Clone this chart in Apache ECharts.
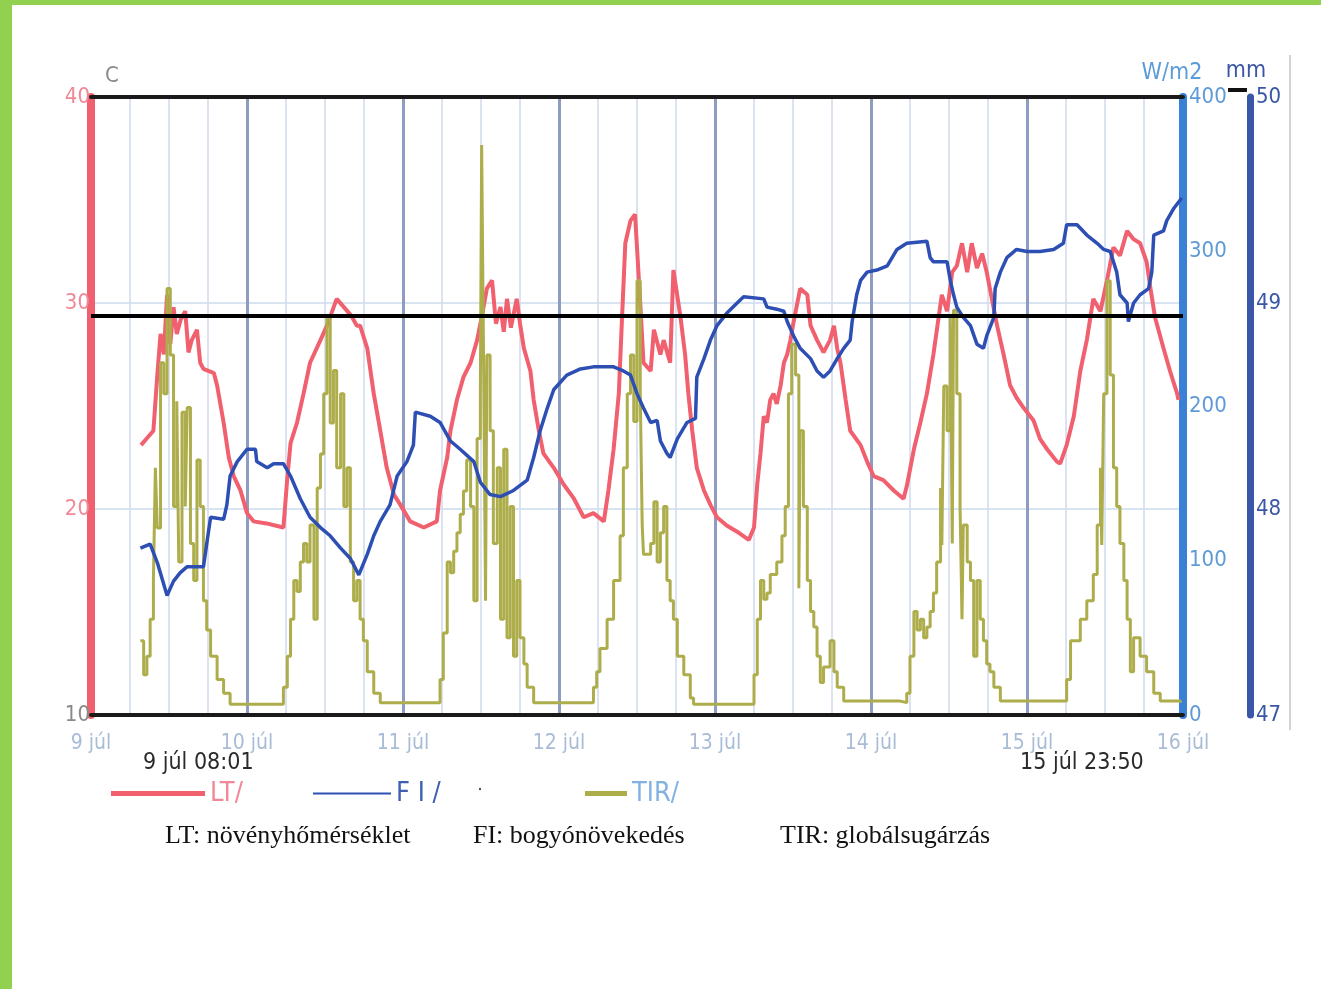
<!DOCTYPE html>
<html><head><meta charset="utf-8">
<script src="https://cdn.jsdelivr.net/npm/echarts@6/dist/echarts.min.js"></script>
<style>html,body{margin:0;padding:0;background:#fff;}#c{width:1321px;height:989px;}</style>
</head><body><div id="c"></div>
<script>
// time in hours from 9 júl 00:00
const DAY_START = 9;
const DAY_SUFFIX = ' júl';
const START_LABEL = '9 júl 08:01';
const END_LABEL = '15 júl 23:50';
const REF_LINE_C = 29.4;

// LT: plant temperature (°C)
const LT = [
[7.7,23.1],[8.5,23.4],[9.6,23.8],[10.2,26.5],[10.7,28.5],[11.2,27.5],[11.7,30.4],[12.2,28.0],[12.7,29.8],[13.2,28.5],[13.8,29.2],[14.5,29.6],[15.0,27.6],[15.5,28.2],[16.3,28.7],[16.8,27.1],[17.3,26.8],[18.9,26.6],[19.4,26.0],[20.4,24.2],[21.2,22.5],[21.95,21.6],[23.0,20.9],[24.0,19.8],[25.0,19.4],[27.0,19.3],[29.6,19.1],[30.2,21.5],[30.7,23.2],[31.7,24.2],[32.7,25.6],[33.7,27.1],[35.3,28.2],[36.3,28.9],[37.8,30.2],[38.9,29.8],[40.0,29.4],[40.9,28.9],[41.4,28.9],[42.5,27.8],[43.5,25.6],[44.5,23.8],[45.5,22.0],[46.6,20.7],[47.6,20.2],[49.1,19.4],[51.2,19.1],[53.2,19.4],[53.7,20.9],[54.8,22.5],[55.3,23.8],[56.3,25.3],[57.3,26.4],[58.4,27.1],[59.4,28.2],[60.1,29.3],[60.9,30.7],[61.7,31.1],[62.3,29.0],[63.0,29.8],[63.5,28.6],[64.0,30.2],[64.6,28.8],[65.5,30.2],[66.0,29.0],[66.6,27.8],[67.6,26.7],[68.1,25.3],[68.9,23.8],[69.6,22.7],[71.2,22.0],[72.7,21.2],[74.3,20.5],[75.8,19.6],[77.3,19.8],[78.9,19.4],[79.6,20.9],[80.4,22.9],[81.2,25.6],[81.7,29.3],[82.2,32.9],[83.0,34.0],[83.7,34.3],[84.5,30.0],[85.0,27.1],[86.1,26.7],[86.6,28.7],[87.6,27.5],[88.1,28.2],[89.1,27.1],[89.6,31.6],[90.7,29.3],[91.4,27.5],[91.9,25.6],[92.5,23.8],[93.2,22.0],[94.3,20.9],[95.3,20.2],[96.3,19.6],[97.8,19.2],[99.4,18.9],[101.2,18.5],[102.0,19.1],[102.5,21.2],[103.0,22.7],[103.5,24.5],[104.0,24.2],[104.5,25.3],[105.0,25.6],[105.5,25.1],[106.1,26.0],[106.6,27.1],[107.1,27.5],[107.6,28.2],[108.1,29.1],[109.1,30.7],[110.2,30.4],[110.7,28.9],[111.7,28.2],[112.7,27.6],[113.7,28.2],[114.3,28.9],[114.8,27.8],[115.3,27.1],[116.1,25.3],[116.8,23.8],[118.4,23.1],[119.4,22.3],[120.4,21.6],[121.9,21.4],[123.5,20.9],[125.0,20.5],[125.5,21.1],[126.6,22.9],[127.6,24.2],[128.6,25.6],[129.6,27.5],[130.4,29.3],[130.9,30.4],[131.7,29.6],[132.5,31.5],[133.2,31.8],[134.0,32.9],[134.8,31.5],[135.5,32.9],[136.3,31.7],[137.1,32.4],[137.8,31.5],[138.6,30.2],[139.4,28.9],[140.4,27.5],[141.4,26.0],[142.4,25.4],[143.5,24.9],[145.0,24.3],[146.0,23.4],[147.1,22.9],[148.6,22.3],[149.1,22.2],[150.1,23.1],[151.2,24.5],[152.2,26.7],[153.2,28.2],[154.2,30.2],[155.3,29.6],[156.3,31.1],[157.3,32.7],[158.3,32.3],[159.4,33.5],[160.4,33.1],[161.4,32.9],[162.4,32.0],[163.0,30.7],[163.7,29.3],[165.0,27.8],[166.0,26.7],[167.1,25.6],[167.3,25.3]
];

// FI: berry growth (mm)
const FI = [
[7.6,47.81],[9.1,47.83],[10.2,47.74],[11.7,47.58],[12.7,47.65],[13.7,47.69],[14.8,47.72],[17.3,47.72],[17.8,47.83],[18.4,47.96],[20.4,47.95],[20.9,48.02],[21.4,48.16],[22.5,48.23],[24.0,48.29],[25.3,48.29],[25.5,48.23],[27.1,48.20],[28.1,48.22],[29.6,48.22],[30.7,48.16],[32.2,48.05],[33.7,47.96],[35.3,47.91],[36.8,47.87],[38.4,47.81],[39.9,47.76],[41.2,47.68],[42.5,47.78],[43.5,47.87],[44.5,47.94],[46.0,48.02],[47.1,48.16],[48.6,48.23],[49.6,48.31],[49.9,48.47],[52.2,48.45],[53.7,48.42],[55.3,48.33],[56.8,48.29],[58.9,48.23],[59.9,48.13],[61.4,48.07],[63.0,48.06],[65.0,48.09],[67.1,48.14],[68.1,48.25],[69.1,48.38],[70.2,48.49],[71.2,48.58],[73.2,48.65],[75.3,48.68],[77.3,48.69],[80.4,48.69],[81.9,48.67],[83.0,48.65],[84.0,48.56],[85.0,48.49],[86.1,48.42],[87.1,48.43],[87.6,48.33],[88.6,48.27],[89.1,48.25],[90.2,48.34],[91.7,48.42],[93.0,48.44],[93.2,48.64],[94.3,48.73],[95.3,48.82],[96.3,48.89],[97.8,48.95],[99.4,49.00],[100.4,49.03],[103.5,49.02],[104.0,48.98],[105.5,48.97],[106.6,48.96],[107.1,48.91],[108.1,48.84],[109.1,48.78],[110.7,48.73],[111.7,48.67],[112.7,48.64],[113.7,48.67],[114.8,48.73],[115.8,48.78],[116.8,48.82],[117.1,48.91],[117.8,49.04],[118.4,49.11],[119.4,49.15],[120.9,49.16],[122.5,49.18],[124.0,49.26],[125.5,49.29],[128.6,49.30],[129.1,49.22],[129.6,49.20],[131.7,49.20],[132.2,49.11],[132.7,49.04],[133.2,48.98],[134.2,48.93],[135.3,48.89],[136.3,48.80],[137.3,48.78],[137.8,48.84],[138.9,48.93],[139.1,49.07],[139.9,49.15],[140.9,49.22],[142.4,49.26],[144.0,49.25],[146.0,49.25],[148.1,49.26],[149.6,49.29],[150.1,49.38],[151.7,49.38],[153.2,49.33],[154.8,49.29],[155.8,49.26],[156.8,49.25],[157.3,49.20],[157.8,49.15],[158.3,49.04],[159.4,49.00],[159.6,48.91],[160.4,49.00],[161.4,49.04],[162.7,49.07],[163.2,49.15],[163.5,49.33],[165.0,49.35],[165.5,49.40],[166.6,49.46],[167.8,49.51]
];

// TIR: global radiation (W/m2)
const TIR = [
[7.6,48],[8.1,26],[8.6,38],[9.1,62],[9.6,87],[9.9,160],[10.2,121],[10.7,228],[11.2,208],[11.7,276],[12.2,233],[12.7,135],[13.2,203],[13.5,99],[14.0,196],[14.5,135],[14.8,199],[15.3,111],[15.8,87],[16.3,165],[16.8,135],[17.3,74],[17.8,55],[18.4,38],[19.4,23],[20.4,14],[21.4,7],[28.6,7],[29.6,18],[30.2,38],[30.7,62],[31.2,87],[31.7,80],[32.2,99],[32.7,111],[33.2,99],[33.7,123],[34.3,62],[34.8,147],[35.3,169],[35.8,208],[36.3,257],[36.8,189],[37.3,223],[37.8,160],[38.4,208],[38.9,135],[39.4,160],[39.9,99],[40.4,74],[40.9,87],[41.4,62],[41.9,48],[42.5,28],[43.5,14],[44.5,8],[53.2,8],[53.7,23],[54.2,53],[54.8,99],[55.3,92],[55.8,106],[56.3,118],[56.8,130],[57.3,145],[57.8,165],[58.4,135],[58.9,74],[59.4,179],[59.9,208],[60.1,369],[60.4,228],[60.7,74],[60.9,233],[61.4,184],[61.9,111],[62.5,160],[63.0,62],[63.5,172],[64.0,50],[64.5,135],[65.0,38],[65.5,87],[66.0,50],[66.6,33],[67.1,18],[68.1,8],[76.8,8],[77.3,18],[77.8,28],[78.3,43],[79.4,62],[80.4,87],[81.4,116],[81.9,160],[82.5,208],[83.0,233],[83.5,190],[84.0,281],[84.5,208],[84.8,123],[85.0,104],[86.1,111],[86.6,138],[87.1,99],[87.6,118],[88.1,135],[88.6,87],[89.1,74],[89.6,62],[90.2,38],[91.2,26],[92.2,11],[92.7,7],[100.9,7],[102.0,26],[102.5,62],[103.0,87],[103.5,75],[104.0,79],[104.5,91],[105.5,99],[106.3,116],[106.8,135],[107.3,208],[107.8,240],[108.4,220],[108.9,82],[109.1,184],[109.6,135],[110.2,87],[110.7,67],[111.2,57],[111.7,38],[112.2,21],[112.7,31],[113.7,48],[114.3,28],[114.8,18],[115.8,9],[124.5,8],[125.5,14],[126.0,38],[126.6,67],[127.1,55],[127.6,62],[128.1,50],[128.6,57],[129.1,67],[129.6,79],[130.1,99],[130.7,147],[130.9,110],[131.2,213],[131.7,184],[132.2,257],[132.5,111],[132.7,262],[133.2,208],[133.7,135],[134.0,62],[134.2,123],[134.8,99],[135.3,87],[135.8,38],[136.3,87],[136.8,62],[137.3,48],[137.8,33],[138.3,28],[138.9,18],[139.9,9],[149.1,9],[150.1,23],[150.7,48],[151.2,48],[152.2,62],[153.2,74],[154.2,91],[154.8,123],[155.3,160],[155.5,110],[155.8,208],[156.3,281],[156.8,220],[157.3,160],[157.8,135],[158.3,111],[158.9,87],[159.4,62],[159.9,28],[160.4,50],[161.4,38],[162.4,28],[163.5,14],[164.5,9],[167.6,8]
];

const COND = '"Liberation Sans Narrow","DejaVu Sans Condensed","Liberation Sans",Arial,sans-serif';
const SERIF = '"Liberation Serif","DejaVu Serif",serif';

const chart = echarts.init(document.getElementById('c'));
chart.setOption({
  animation: false,
  backgroundColor: '#fff',
  grid: { left: 91, right: 138, top: 97, bottom: 274, containLabel: false },
  xAxis: [{
    type: 'value', min: 0, max: 168, interval: 24, position: 'bottom',
    axisLine: { show: true, onZero: false, lineStyle: { color: '#1a1a1a', width: 4 } },
    axisTick: { show: false },
    minorTick: { show: false, splitNumber: 4 },
    axisLabel: { color: '#a8bcd6', fontSize: 21, fontFamily: COND, margin: 18,
      formatter: v => (DAY_START + v / 24) + DAY_SUFFIX },
    splitLine: { show: true, lineStyle: { color: '#8e9cc2', width: 3 } },
    minorSplitLine: { show: true, lineStyle: { color: '#cfdaec', width: 1.5 } }
  }, {
    type: 'value', min: 0, max: 168, position: 'top',
    axisLine: { show: true, onZero: false, lineStyle: { color: '#1a1a1a', width: 4 } },
    axisTick: { show: false }, axisLabel: { show: false }, splitLine: { show: false }
  }],
  yAxis: [{
    type: 'value', position: 'left', min: 10, max: 40, interval: 10,
    name: 'C', nameLocation: 'end', nameGap: 10,
    nameTextStyle: { color: '#8a8a8a', fontSize: 22, fontFamily: COND, align: 'left', padding: [0, 0, 0, 14] },
    axisLine: { show: true, onZero: false, lineStyle: { color: '#f0606e', width: 8 } },
    axisTick: { show: false },
    axisLabel: { color: v => (Number(v) === 10 ? '#8a8a8a' : '#f08898'), fontSize: 22, fontFamily: COND, margin: 1 },
    splitLine: { show: true, lineStyle: { color: '#cddbee', width: 1.5 } }
  }, {
    type: 'value', position: 'right', min: 0, max: 400, interval: 100,
    name: 'W/m2', nameLocation: 'end', nameGap: 12,
    nameTextStyle: { color: '#5b9bd8', fontSize: 23, fontFamily: COND, padding: [0, 22, 0, 0] },
    axisLine: { show: true, onZero: false, lineStyle: { color: '#3a80d6', width: 8 } },
    axisTick: { show: false },
    axisLabel: { color: '#5e9ad6', fontSize: 22, fontFamily: COND, margin: 6 },
    splitLine: { show: false }
  }, {
    type: 'value', position: 'right', offset: 67, min: 47, max: 50, interval: 1,
    name: 'mm', nameLocation: 'end', nameGap: 14,
    nameTextStyle: { color: '#3a56a6', fontSize: 23, fontFamily: COND, padding: [0, 8, 0, 0] },
    axisLine: { show: true, onZero: false, lineStyle: { color: '#3a56a8', width: 7 } },
    axisTick: { show: false },
    axisLabel: { color: '#3a56a6', fontSize: 22, fontFamily: COND, margin: 6 },
    splitLine: { show: false }
  }],
  legend: [
    { data: ['LT/'], left: 106, top: 775, icon: 'rect', itemWidth: 94, itemHeight: 5, itemGap: 0,
      textStyle: { color: '#f08898', fontSize: 27, fontFamily: COND } },
    { data: ['F I /'], left: 308, top: 775, icon: 'rect', itemWidth: 78, itemHeight: 2, itemGap: 0,
      textStyle: { color: '#3f5fb0', fontSize: 27, fontFamily: COND } },
    { data: ['TIR/'], left: 580, top: 775, icon: 'rect', itemWidth: 42, itemHeight: 5, itemGap: 0,
      textStyle: { color: '#82b2e2', fontSize: 27, fontFamily: COND } }
  ],
  series: [{
    name: 'LT/', type: 'line', yAxisIndex: 0, data: LT, showSymbol: false, z: 2,
    lineStyle: { color: '#f0606e', width: 4 }, itemStyle: { color: '#f0606e' },
    markLine: { silent: true, symbol: 'none', label: { show: false },
      lineStyle: { color: '#000', width: 4, type: 'solid' }, data: [{ yAxis: REF_LINE_C }] }
  }, {
    name: 'TIR/', type: 'line', yAxisIndex: 1, data: TIR, showSymbol: false, step: 'end', z: 3,
    lineStyle: { color: '#adad4c', width: 3 }, itemStyle: { color: '#adad4c' }
  }, {
    name: 'F I /', type: 'line', yAxisIndex: 2, data: FI, showSymbol: false, z: 4,
    lineStyle: { color: '#2d4fb4', width: 3.5 }, itemStyle: { color: '#2d4fb4' }
  }],
  graphic: [
    { type: 'rect', shape: { x: 0, y: 0, width: 12, height: 989 }, style: { fill: '#92d050' } },
    { type: 'rect', shape: { x: 0, y: 0, width: 1321, height: 5 }, style: { fill: '#92d050' } },
    { type: 'line', shape: { x1: 1290, y1: 55, x2: 1290, y2: 730 }, style: { stroke: '#c4c4c4', lineWidth: 1.5 } },
    { type: 'line', shape: { x1: 1228, y1: 90, x2: 1247, y2: 90 }, style: { stroke: '#111', lineWidth: 4 } },
    { type: 'text', left: 143, top: 752, style: { text: START_LABEL, fill: '#2a2a2a', font: '23px ' + COND } },
    { type: 'text', left: 1020, top: 752, style: { text: END_LABEL, fill: '#2a2a2a', font: '23px ' + COND } },
    { type: 'circle', shape: { cx: 480, cy: 789, r: 1.2 }, style: { fill: '#555' } },
    { type: 'text', left: 165, top: 823, style: { text: 'LT: növényhőmérséklet', fill: '#111', font: '26px ' + SERIF } },
    { type: 'text', left: 473, top: 823, style: { text: 'FI: bogyónövekedés', fill: '#111', font: '26px ' + SERIF } },
    { type: 'text', left: 780, top: 823, style: { text: 'TIR: globálsugárzás', fill: '#111', font: '26px ' + SERIF } }
  ]
});
</script>
</body></html>
